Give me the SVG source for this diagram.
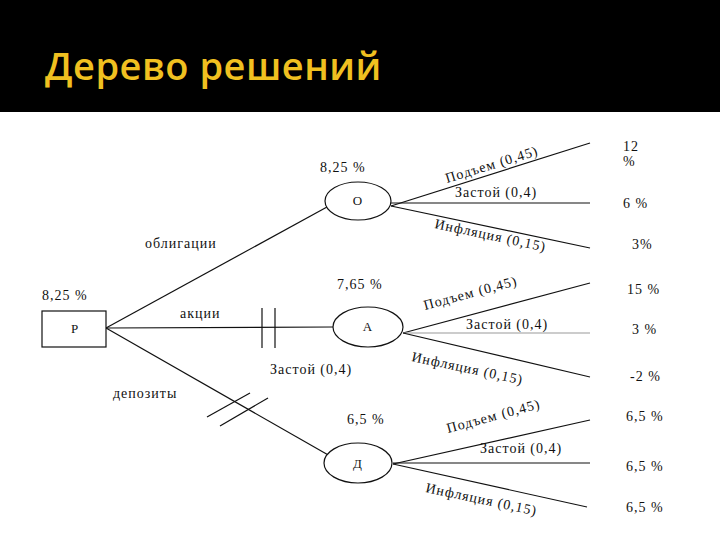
<svg xmlns="http://www.w3.org/2000/svg" width="720" height="540" viewBox="0 0 720 540">
<style>
text{font-family:"Liberation Serif",serif;font-size:14px;letter-spacing:1px;fill:#111}
.t{font-family:"Open Sans","DejaVu Sans",sans-serif;font-size:38px;font-weight:600;letter-spacing:0.5px;fill:#f0c020}
.n{font-size:13px;text-anchor:middle}
line,path{stroke:#111;stroke-width:1.2;fill:none}
.nd{fill:#fff;stroke:#111;stroke-width:1.2}
.bg{fill:#000;stroke:none}
</style>
<rect class="bg" x="0" y="0" width="720" height="112"/>
<rect x="0" y="112" width="720" height="428" fill="#fff"/>
<text class="t" x="45" y="80">Дерево решений</text>
<g id="connectors">
<line x1="106" y1="328" x2="327" y2="207"/>
<line x1="106" y1="328" x2="333" y2="327"/>
<line x1="106" y1="328" x2="330" y2="456"/>
<line x1="262" y1="308" x2="262" y2="348"/>
<line x1="275" y1="308" x2="275" y2="348"/>
<line x1="207" y1="417" x2="250" y2="393"/>
<line x1="220" y1="426" x2="268" y2="398"/>
<line x1="391" y1="206" x2="590" y2="143"/>
<line x1="391" y1="203" x2="590" y2="203"/>
<line x1="391" y1="206" x2="590" y2="248"/>
<line x1="403" y1="333" x2="590" y2="283"/>
<line x1="403" y1="333" x2="590" y2="333" style="stroke:#999"/>
<line x1="403" y1="333" x2="590" y2="377"/>
<line x1="393" y1="464" x2="590" y2="420"/>
<line x1="393" y1="463" x2="590" y2="463"/>
<line x1="393" y1="464" x2="587" y2="507"/>
</g>
<g id="P"><rect class="nd" x="42" y="311" width="64" height="36"/><text class="n" x="75" y="333">Р</text><text x="42" y="300">8,25 %</text></g>
<g id="O"><ellipse class="nd" cx="358" cy="201" rx="33" ry="19"/><text class="n" x="358" y="205">О</text><text x="320" y="172">8,25 %</text></g>
<g id="A"><ellipse class="nd" cx="368" cy="327" rx="35" ry="20"/><text class="n" x="368" y="331">А</text><text x="337" y="289">7,65 %</text></g>
<g id="D"><ellipse class="nd" cx="358" cy="463" rx="34" ry="20"/><text class="n" x="358" y="468">Д</text><text x="347" y="424">6,5 %</text></g>
<g id="labels">
<text x="145" y="248">облигации</text>
<text x="180" y="318">акции</text>
<text x="113" y="398">депозиты</text>
<text x="270" y="374">Застой (0,4)</text>
<text x="447" y="183" transform="rotate(-17 447 183)">Подъем (0,45)</text>
<text x="455" y="197">Застой (0,4)</text>
<text x="434" y="228" transform="rotate(12 434 228)">Инфляция (0,15)</text>
<text x="425" y="310" transform="rotate(-15 425 310)">Подъем (0,45)</text>
<text x="466" y="329">Застой (0,4)</text>
<text x="411" y="361" transform="rotate(12 411 361)">Инфляция (0,15)</text>
<text x="448" y="433" transform="rotate(-15 448 433)">Подъем (0,45)</text>
<text x="480" y="453">Застой (0,4)</text>
<text x="425" y="492" transform="rotate(12 425 492)">Инфляция (0,15)</text>
<text x="623" y="151">12</text><text x="623" y="166">%</text>
<text x="623" y="208">6 %</text>
<text x="632" y="249">3%</text>
<text x="627" y="294">15 %</text>
<text x="632" y="334">3 %</text>
<text x="630" y="381">-2 %</text>
<text x="626" y="421">6,5 %</text>
<text x="626" y="471">6,5 %</text>
<text x="626" y="512">6,5 %</text>
</g>
</svg>
